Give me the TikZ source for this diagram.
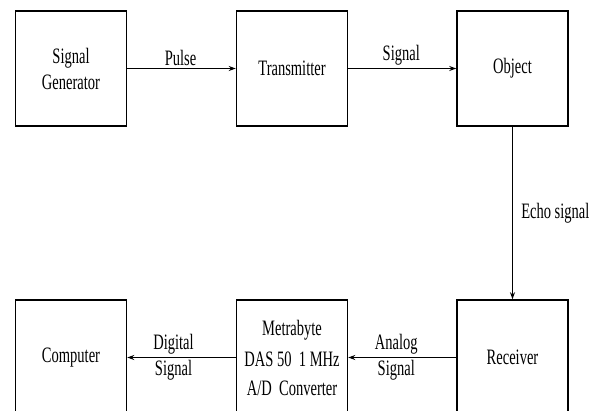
\documentclass[tikz,border=0pt]{standalone}
\usepackage{fontspec}
\setmainfont[FakeStretch=0.66]{Liberation Serif}
\usetikzlibrary{arrows.meta}
\begin{document}
\begin{tikzpicture}[x=1pt, y=-1pt, >={Stealth[length=7pt,width=5pt]}, line width=1.5pt,
  block/.style={draw, rectangle, minimum width=111pt, minimum height=115pt, align=center, inner sep=2pt},
  lbl/.style={inner sep=2pt, align=center}]
\fontsize{22}{26}\selectfont
\useasboundingbox (0,0) rectangle (599,411);
\clip (0,0) rectangle (599,411);
\node[block] (sg) at (71,68.5) {Signal\\Generator};
\node[block] (tx) at (292,68.5) {Transmitter};
\node[block] (obj) at (512.5,68.5) {Object};
\node[block] (rx) at (512.5,357.5) {Receiver};
\node[block] (adc) at (292,357.5) {Metrabyte\\[5pt]DAS 50\ \ 1 MHz\\[3pt]A/D\ \ Converter};
\node[block] (pc) at (71,357.5) {Computer};
\draw[->] (sg) -- node[lbl, above, xshift=-1pt] {Pulse} (tx);
\draw[->] (tx) -- node[lbl, above, xshift=-1pt] {Signal} (obj);
\draw[->] (obj) -- node[lbl, right, xshift=6pt] {Echo signal} (rx);
\draw[->] (rx) -- node[lbl, xshift=-6pt] {Analog\\Signal} (adc);
\draw[->] (adc) -- node[lbl, xshift=-8pt] {Digital\\Signal} (pc);
\end{tikzpicture}
\end{document}
